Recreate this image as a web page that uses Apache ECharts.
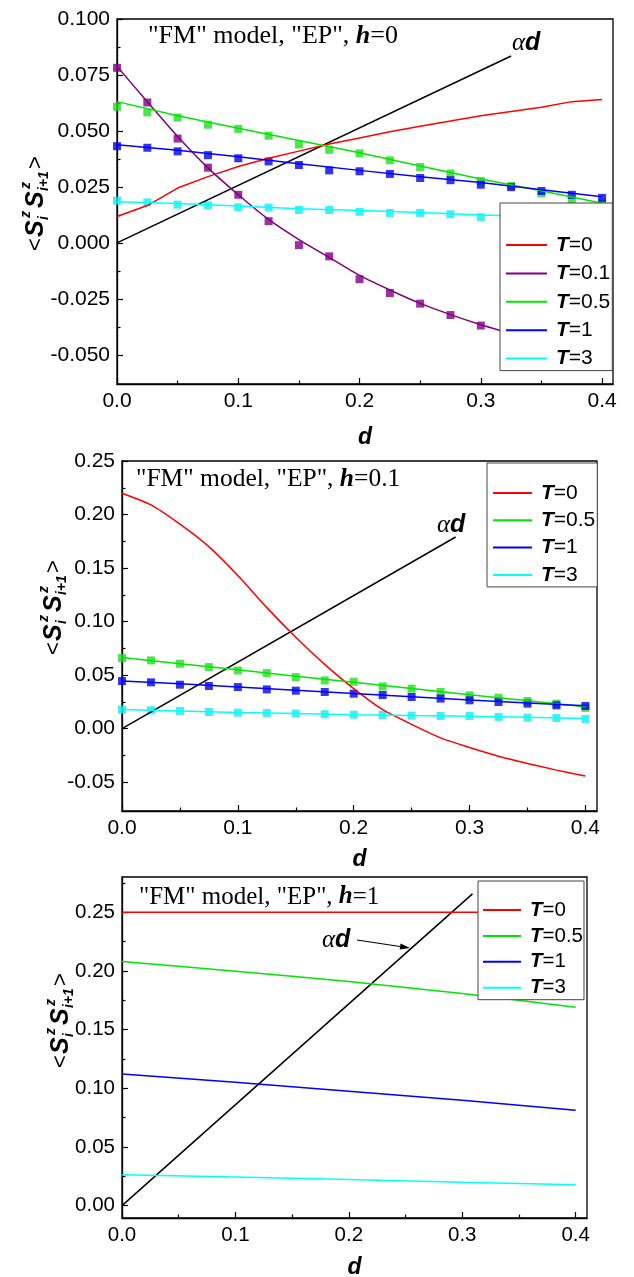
<!DOCTYPE html>
<html><head><meta charset="utf-8">
<script src="https://cdn.jsdelivr.net/npm/echarts@6/dist/echarts.min.js"></script>
<style>html,body{margin:0;padding:0;background:#fff}#c{width:634px;height:1277px}</style>
</head><body><div id="c"></div>
<script>
// ---------- axis ticks ----------
const xTicks = [0, 0.1, 0.2, 0.3, 0.4];
const xMinor = [0.05, 0.15, 0.25, 0.35];
const p1YTicks = [-0.05, -0.025, 0, 0.025, 0.05, 0.075, 0.1];
const p1YMinor = [-0.0375, -0.0125, 0.0125, 0.0375, 0.0625, 0.0875];
const p2YTicks = [-0.05, 0, 0.05, 0.1, 0.15, 0.2, 0.25];
const p2YMinor = [-0.025, 0.025, 0.075, 0.125, 0.175, 0.225];
const p3YTicks = [0, 0.05, 0.1, 0.15, 0.2, 0.25];
const p3YMinor = [0.025, 0.075, 0.125, 0.175, 0.225, 0.275];

// ---------- x positions ----------
const dMarks = [0, 0.025, 0.05, 0.075, 0.1, 0.125, 0.15, 0.175, 0.2, 0.225, 0.25, 0.275, 0.3, 0.325, 0.35, 0.375, 0.4];
const dLine = [0, 0.05, 0.1, 0.15, 0.2, 0.25, 0.3, 0.35, 0.4];
const dCoarse = [0, 0.1, 0.2, 0.3, 0.4];

// ---------- panel 1 : h = 0 ----------
const p1T0X = [0, 0.025, 0.05, 0.075, 0.1, 0.125, 0.15, 0.175, 0.2, 0.225, 0.25, 0.3, 0.35, 0.375, 0.4];
const p1T0 = [0.0118, 0.0167, 0.0245, 0.0296, 0.0341, 0.0378, 0.041, 0.0442, 0.0469, 0.0496, 0.0521, 0.0568, 0.0606, 0.0631, 0.0641];
const p1T01Line = [0.0789, 0.063, 0.0475, 0.0335, 0.0215, 0.0105, 0.0015, -0.0065, -0.0145, -0.021, -0.027, -0.032, -0.0365, -0.0405, -0.0445, -0.048, -0.051];
const p1T01Pts = [0.0782, 0.0627, 0.0466, 0.0336, 0.0215, 0.0097, -0.001, -0.006, -0.0162, -0.0224, -0.0271, -0.0322, -0.0369, -0.041, -0.0445, -0.048, -0.051];
const p1T05Line = [0.0631, 0.0568, 0.0512, 0.0457, 0.0403, 0.0344, 0.0285, 0.0233, 0.0177];
const p1T05Pts = [0.0608, 0.0583, 0.056, 0.0528, 0.0509, 0.0479, 0.044, 0.0416, 0.04, 0.0369, 0.0339, 0.031, 0.0277, 0.0254, 0.0221, 0.0189, 0.0177];
const p1T1Line = [0.0438, 0.0414, 0.0385, 0.0354, 0.0324, 0.0296, 0.027, 0.0237, 0.0206];
const p1T1Pts = [0.0432, 0.0425, 0.0409, 0.0392, 0.0378, 0.0364, 0.0348, 0.0324, 0.032, 0.0308, 0.029, 0.028, 0.026, 0.0249, 0.0232, 0.0215, 0.0201];
const p1T3Line = [0.0184, 0.0176, 0.0165, 0.0153, 0.0145, 0.0136, 0.0125, 0.0117, 0.0108];
const p1T3Pts = [0.0189, 0.0181, 0.0171, 0.0168, 0.0159, 0.0158, 0.0147, 0.0147, 0.0139, 0.0134, 0.0134, 0.0128, 0.0115, 0.0113, 0.011, 0.0106, 0.0102];
const p1AlphaX = [0, 0.325];
const p1Alpha = [0, 0.0835];

// ---------- panel 2 : h = 0.1 ----------
const p2T0X = [0, 0.025, 0.05, 0.075, 0.1, 0.125, 0.15, 0.175, 0.2, 0.225, 0.25, 0.275, 0.3, 0.325, 0.35, 0.375, 0.4];
const p2T0 = [0.2199, 0.209, 0.191, 0.170, 0.143, 0.113, 0.0854, 0.060, 0.0373, 0.0177, 0.004, -0.0087, -0.0177, -0.0258, -0.0326, -0.0388, -0.0444];
const p2T05Line = [0.0665, 0.0605, 0.055, 0.049, 0.0432, 0.0375, 0.0315, 0.026, 0.0205];
const p2T05Pts = [0.0658, 0.0637, 0.0606, 0.0575, 0.0543, 0.0519, 0.0481, 0.045, 0.0438, 0.0394, 0.0373, 0.0342, 0.031, 0.0289, 0.0258, 0.0233, 0.0193];
const p2T1Line = [0.0445, 0.0418, 0.0388, 0.0358, 0.0328, 0.0297, 0.0266, 0.0238, 0.0213];
const p2T1Pts = [0.0444, 0.0432, 0.041, 0.0398, 0.0388, 0.0366, 0.0354, 0.0342, 0.0326, 0.0314, 0.0295, 0.028, 0.0264, 0.0248, 0.0233, 0.0217, 0.0211];
const p2T3Line = [0.0178, 0.0165, 0.0151, 0.014, 0.013, 0.0122, 0.0115, 0.0105, 0.0095];
const p2T3Pts = [0.0177, 0.0171, 0.0165, 0.0155, 0.0149, 0.0146, 0.014, 0.0134, 0.013, 0.0127, 0.0121, 0.0118, 0.0118, 0.0109, 0.0102, 0.0099, 0.009];
const p2AlphaX = [0, 0.288];
const p2Alpha = [0, 0.179];

// ---------- panel 3 : h = 1 ----------
const p3T0 = [0.25, 0.25, 0.25, 0.25, 0.25];
const p3T05 = [0.208, 0.1997, 0.191, 0.1807, 0.169];
const p3T1 = [0.1122, 0.1051, 0.0974, 0.0898, 0.0813];
const p3T3 = [0.0264, 0.0244, 0.0222, 0.0199, 0.0179];
const p3AlphaX = [0, 0.309];
const p3Alpha = [0, 0.2656];

// ---------- styling ----------
const SANS = '"Liberation Sans", Arial, sans-serif';
const SERIF = '"Liberation Serif", "Times New Roman", serif';
const COL = { T0: '#ff0000', T01: '#800080', T05: '#00e600', T1: '#0000ff', T3: '#00ffff', a: '#000000' };
const PTCOL = { T01: '#800080', T05: '#22dd22', T1: '#0000ee', T3: '#11eeee' };

const zip = (xs, ys) => xs.map((x, i) => [x, ys[i]]);

const panels = [
  { grid: { left: 117, top: 19, width: 496, height: 365 }, xmax: 0.409, ymin: -0.063, ymax: 0.1,
    yTicks: p1YTicks, yMinor: p1YMinor, dec: 3, fs: 21, nameGap: 42 },
  { grid: { left: 122, top: 461, width: 475, height: 350 }, xmax: 0.41, ymin: -0.077, ymax: 0.25,
    yTicks: p2YTicks, yMinor: p2YMinor, dec: 2, fs: 21, nameGap: 37 },
  { grid: { left: 122, top: 877, width: 465, height: 341 }, xmax: 0.41, ymin: -0.0105, ymax: 0.28,
    yTicks: p3YTicks, yMinor: p3YMinor, dec: 2, fs: 20.5, nameGap: 38 }
];

const grids = [], xAxes = [], yAxes = [];
panels.forEach((p, i) => {
  grids.push(Object.assign({ show: true, borderColor: '#000', borderWidth: 1.3, containLabel: false, outerBoundsMode: 'none' }, p.grid));
  // main x
  xAxes.push({ type: 'value', gridIndex: i, min: 0, max: p.xmax, position: 'bottom',
    axisLine: { show: true, onZero: false, lineStyle: { color: '#000', width: 1.3 } },
    axisTick: { show: true, inside: true, length: 6, customValues: xTicks, lineStyle: { color: '#000', width: 1.2 } },
    axisLabel: { show: true, customValues: xTicks, formatter: v => v.toFixed(1), color: '#000', fontFamily: SANS, fontSize: p.fs, margin: 7 },
    splitLine: { show: false },
    name: 'd', nameLocation: 'middle', nameGap: p.nameGap,
    nameTextStyle: { fontFamily: SANS, fontWeight: 'bold', fontStyle: 'italic', fontSize: 23, color: '#000' } });
  // minor x
  xAxes.push({ type: 'value', gridIndex: i, min: 0, max: p.xmax, position: 'bottom',
    axisLine: { show: false, onZero: false }, axisLabel: { show: false }, splitLine: { show: false },
    axisTick: { show: true, inside: true, length: 3.5, customValues: xMinor, lineStyle: { color: '#000', width: 1.2 } } });
  // main y
  yAxes.push({ type: 'value', gridIndex: i, min: p.ymin, max: p.ymax, position: 'left',
    axisLine: { show: true, onZero: false, lineStyle: { color: '#000', width: 1.3 } },
    axisTick: { show: true, inside: true, length: 6, customValues: p.yTicks, lineStyle: { color: '#000', width: 1.2 } },
    axisLabel: { show: true, customValues: p.yTicks, formatter: v => v.toFixed(p.dec), color: '#000', fontFamily: SANS, fontSize: p.fs, margin: 7 },
    splitLine: { show: false } });
  // minor y
  yAxes.push({ type: 'value', gridIndex: i, min: p.ymin, max: p.ymax, position: 'left',
    axisLine: { show: false, onZero: false }, axisLabel: { show: false }, splitLine: { show: false },
    axisTick: { show: true, inside: true, length: 3.5, customValues: p.yMinor, lineStyle: { color: '#000', width: 1.2 } } });
});

function lineS(name, pi, data, color, smooth) {
  return { type: 'line', name: name, xAxisIndex: pi * 2, yAxisIndex: pi * 2, data: data, symbol: 'none', showSymbol: false,
    smooth: smooth || false, lineStyle: { color: color, width: 1.5 }, itemStyle: { color: color }, z: 3, silent: true };
}
function ptsS(name, pi, data, color) {
  return { type: 'scatter', name: name, xAxisIndex: pi * 2, yAxisIndex: pi * 2, data: data, symbol: 'rect', symbolSize: 8,
    itemStyle: { color: color }, z: 2, silent: true };
}

const series = [
  // panel 1
  lineS('αd1', 0, zip(p1AlphaX, p1Alpha), COL.a),
  ptsS('p1T01', 0, zip(dMarks, p1T01Pts), PTCOL.T01),
  ptsS('p1T05', 0, zip(dMarks, p1T05Pts), PTCOL.T05),
  ptsS('p1T1', 0, zip(dMarks, p1T1Pts), PTCOL.T1),
  ptsS('p1T3', 0, zip(dMarks, p1T3Pts), PTCOL.T3),
  lineS('T=0', 0, zip(p1T0X, p1T0), COL.T0),
  lineS('T=0.1', 0, zip(dMarks, p1T01Line), COL.T01, 0.2),
  lineS('T=0.5', 0, zip(dLine, p1T05Line), COL.T05),
  lineS('T=1', 0, zip(dLine, p1T1Line), COL.T1),
  lineS('T=3', 0, zip(dLine, p1T3Line), COL.T3),
  // panel 2
  lineS('αd2', 1, zip(p2AlphaX, p2Alpha), COL.a),
  ptsS('p2T05', 1, zip(dMarks, p2T05Pts), PTCOL.T05),
  ptsS('p2T1', 1, zip(dMarks, p2T1Pts), PTCOL.T1),
  ptsS('p2T3', 1, zip(dMarks, p2T3Pts), PTCOL.T3),
  lineS('T=0', 1, zip(p2T0X, p2T0), COL.T0, 0.2),
  lineS('T=0.5', 1, zip(dLine, p2T05Line), COL.T05),
  lineS('T=1', 1, zip(dLine, p2T1Line), COL.T1),
  lineS('T=3', 1, zip(dLine, p2T3Line), COL.T3),
  // panel 3
  lineS('αd3', 2, zip(p3AlphaX, p3Alpha), COL.a),
  lineS('T=0', 2, zip(dCoarse, p3T0), COL.T0),
  lineS('T=0.5', 2, zip(dCoarse, p3T05), COL.T05, 0.2),
  lineS('T=1', 2, zip(dCoarse, p3T1), COL.T1),
  lineS('T=3', 2, zip(dCoarse, p3T3), COL.T3)
];

function legendCfg(names, left, top, pad, itemWidth, gap, fs, lh) {
  return {
    orient: 'vertical', left: left, top: top, padding: pad, itemGap: gap,
    itemWidth: itemWidth, itemHeight: 2, icon: 'rect', selectedMode: false,
    backgroundColor: '#fff', borderColor: '#444', borderWidth: 1, borderRadius: 0, z: 10,
    data: names.map(n => ({ name: n, icon: 'rect' })),
    formatter: n => '{t|T}' + n.slice(1),
    textStyle: { fontFamily: SANS, fontSize: fs, color: '#000', lineHeight: lh, padding: [0, 0, 0, 4],
      rich: { t: { fontFamily: SANS, fontSize: fs, fontStyle: 'italic', fontWeight: 'bold', color: '#000', lineHeight: lh } } }
  };
}

const legends = [
  legendCfg(['T=0', 'T=0.1', 'T=0.5', 'T=1', 'T=3'], 500, 203, [30, 2, 0, 6], 41, 4.4, 21, 24),
  legendCfg(['T=0', 'T=0.5', 'T=1', 'T=3'], 487, 463, [18, 2, 0, 6], 39, 3.3, 21, 24),
  legendCfg(['T=0', 'T=0.5', 'T=1', 'T=3'], 478, 881, [18, 1, 1, 5], 38, 3.9, 20.5, 22)
];

// ---------- graphic annotations ----------
function yTitle(cx, cy) {
  const big = 'bold italic 25px ' + SANS;
  const small = 'bold italic 14px ' + SANS;
  const reg = '22px ' + SANS;
  const parts = [
    { t: '<', x: -48, y: 0, f: reg },
    { t: 'S', x: -34, y: 0, f: big },
    { t: 'z', x: -15, y: -10, f: small },
    { t: 'i', x: -17, y: 8, f: small },
    { t: 'S', x: -5, y: 0, f: big },
    { t: 'z', x: 14, y: -10, f: small },
    { t: 'i+1', x: 12, y: 8, f: small },
    { t: '>', x: 34, y: 0, f: reg }
  ];
  return { type: 'group', x: cx, y: cy, rotation: Math.PI / 2, silent: true,
    children: parts.map(p => ({ type: 'text', x: p.x, y: p.y,
      style: { text: p.t, font: p.f, fill: '#000', textAlign: 'left', textVerticalAlign: 'middle', align: 'left', verticalAlign: 'middle' } })) };
}
function note(x, y, h, fs) {
  return { type: 'text', x: x, y: y, silent: true, z: 5,
    style: { text: '{a|"FM" model, "EP", }{b|h}{a|=' + h + '}', textVerticalAlign: 'middle', verticalAlign: 'middle',
      rich: { a: { font: fs + 'px ' + SERIF, fill: '#000' }, b: { font: 'bold italic ' + fs + 'px ' + SERIF, fill: '#000' } } } };
}
function alphaD(x, y) {
  return { type: 'text', x: x, y: y, silent: true, z: 5,
    style: { text: '{a|α}{b|d}', textVerticalAlign: 'middle', verticalAlign: 'middle',
      rich: { a: { font: 'italic 25px ' + SERIF, fill: '#000' }, b: { font: 'bold italic 25px ' + SANS, fill: '#000' } } } };
}
function arrow(x1, y1, x2, y2) {
  const dx = x2 - x1, dy = y2 - y1, L = Math.sqrt(dx * dx + dy * dy);
  const ux = dx / L, uy = dy / L, hl = 10, hw = 3;
  const bx = x2 - ux * hl, by = y2 - uy * hl;
  return [
    { type: 'line', silent: true, shape: { x1: x1, y1: y1, x2: bx, y2: by }, style: { stroke: '#000', lineWidth: 1.2 } },
    { type: 'polygon', silent: true, shape: { points: [[x2, y2], [bx - uy * hw, by + ux * hw], [bx + uy * hw, by - ux * hw]] }, style: { fill: '#000' } }
  ];
}

const graphics = [
  yTitle(36, 203), yTitle(54, 607), yTitle(61, 1020),
  note(148, 36, '0', 26), note(136, 479, '0.1', 25.5), note(139, 897, '1', 25),
  alphaD(512, 43), alphaD(437, 525), alphaD(322, 940)
].concat(arrow(357, 940, 410, 948));

const chart = echarts.init(document.getElementById('c'), null, { renderer: 'canvas' });
chart.setOption({
  animation: false,
  backgroundColor: '#fff',
  grid: grids, xAxis: xAxes, yAxis: yAxes,
  legend: legends,
  series: series,
  graphic: graphics
});
</script></body></html>
